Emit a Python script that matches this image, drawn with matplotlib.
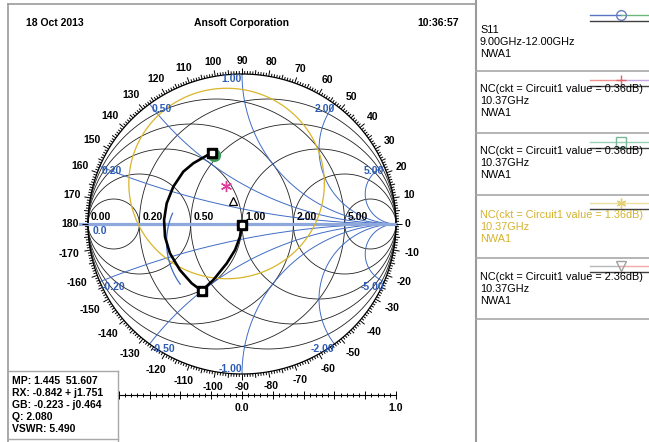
import numpy as np
import matplotlib.pyplot as plt
from matplotlib.collections import LineCollection

plt.rcParams['font.family'] = ['Liberation Sans', 'DejaVu Sans']

W, H = 649, 442
# chart centre and unit radius in pixels
CX, CY, SX, SY = 242, 224, 154, 150

# S11 trace, reflection coefficient (real, imag)
s11_re = [-0.197, -0.316, -0.381, -0.446, -0.489, -0.506, -0.500, -0.468, -0.403,
          -0.327, -0.262, -0.186, -0.099, -0.045, -0.013, -0.002]
s11_im = [0.475, 0.405, 0.349, 0.249, 0.138, 0.027, -0.085, -0.195, -0.307,
          -0.395, -0.445, -0.373, -0.262, -0.173, -0.085, -0.007]
marker_idx = [0, 10, 15]

# noise circles
nc136_center = (-0.10, 0.27)
nc136_radius = 0.635
nf_min = (-0.104, 0.253)
nc236_center = (-0.058, 0.153)
nc036_point = (-0.185, 0.462)
partial_center = (0.0, -0.12)
partial_radius = 0.49
partial_span = (157, 215)

grid_vals = [0.2, 0.5, 1.0, 2.0, 5.0]

legend_entries = [
    (['S11', '9.00GHz-12.00GHz', 'NWA1'], 'black'),
    (['NC(ckt = Circuit1 value = 0.36dB)', '10.37GHz', 'NWA1'], 'black'),
    (['NC(ckt = Circuit1 value = 0.36dB)', '10.37GHz', 'NWA1'], 'black'),
    (['NC(ckt = Circuit1 value = 1.36dB)', '10.37GHz', 'NWA1'], '#d4b22e'),
    (['NC(ckt = Circuit1 value = 2.36dB)', '10.37GHz', 'NWA1'], 'black'),
]
legend_styles = [
    ('#5a74c8', '#6cb87c', 'o', 'none', '#6a80c0'),
    ('#f29090', '#c8a8e4', '+', '#e06464', '#e06464'),
    ('#9cd0b8', '#9cd0b8', 's', 'none', '#7ab89a'),
    ('#ece0a0', '#ece0a0', (6, 2, 0), '#e4d070', '#e4d070'),
    ('#b8b8b8', '#f4a8a8', 'v', 'none', '#a0a0a0'),
]

info_lines = ['MP: 1.445  51.607', 'RX: -0.842 + j1.751', 'GB: -0.223 - j0.464',
              'Q: 2.080', 'VSWR: 5.490']

blue = '#3f6cc4'
blue_txt = '#2d5cb4'

fig = plt.figure(figsize=(W / 100, H / 100), dpi=100)

# page frame, header, legend panel
bg = fig.add_axes([0, 0, 1, 1])
bg.set_xlim(0, W)
bg.set_ylim(H, 0)
bg.axis('off')
frame = '#9a9a9a'
bg.plot([8, 8], [4, H], color=frame, lw=1.2)
bg.plot([8, 476], [4, 4], color=frame, lw=1.2)
bg.plot([476, 476], [0, H], color=frame, lw=1.5)
for y in [71, 133, 195, 258, 319]:
    bg.plot([476, W], [y, y], color='#a8a8a8', lw=1.2)
bg.plot([8, 118], [371, 371], color='#a8a8a8', lw=1.0)
bg.plot([118, 118], [371, H], color='#a8a8a8', lw=1.0)
bg.plot([8, 118], [439, 439], color='#a8a8a8', lw=1.0)

hdr = dict(fontsize=7.5, fontweight='bold', va='center')
bg.text(26, 23, '18 Oct 2013', ha='left', **hdr)
bg.text(242, 23, 'Ansoft Corporation', ha='center', **hdr)
bg.text(459, 23, '10:36:57', ha='right', **hdr)

for i, line in enumerate(info_lines):
    bg.text(12, 381 + i * 12.1, line, fontsize=7.5, fontweight='bold', va='center')

sample_y = [15, 80, 142, 203, 266]
text_y = [30, 89, 151, 215, 277]
for (lines, tcol), (c1, c2, mk, mfc, mec), sy, ty in zip(legend_entries, legend_styles,
                                                          sample_y, text_y):
    bg.plot([590, 621], [sy, sy], color=c1, lw=1.0)
    bg.plot([621, W], [sy, sy], color=c2, lw=1.0)
    bg.plot([621], [sy], marker=mk, ms=7, mfc=mfc, mec=mec, mew=1.0)
    bg.plot([590, W], [sy + 6, sy + 6], color='#404040', lw=1.0)
    for k, s in enumerate(lines):
        bg.text(480, ty + k * 12, s, fontsize=7.8, color=tcol, va='center')

# Smith chart axes in reflection-coefficient units
x0, x1, y0, y1 = -1.25, 1.25, -1.3, 1.3
lpx, rpx = CX + SX * x0, CX + SX * x1
tpx, bpx = CY - SY * y1, CY - SY * y0
ax = fig.add_axes([lpx / W, 1 - bpx / H, (rpx - lpx) / W, (bpx - tpx) / H])
ax.set_xlim(x0, x1)
ax.set_ylim(y0, y1)
ax.axis('off')


def gamma(z):
    return (z - 1) / (z + 1)


th = np.linspace(0, 2 * np.pi, 500)
for v in grid_vals:
    c, rad = v / (1 + v), 1 / (1 + v)
    ax.plot(c + rad * np.cos(th), rad * np.sin(th), color='#202020', lw=0.6)
    ax.plot(-c + rad * np.cos(th), rad * np.sin(th), color='#202020', lw=0.6)

rr = np.concatenate([[0], np.logspace(-3, 4, 800)])
for v in grid_vals:
    for sgn in (1, -1):
        g = gamma(rr + 1j * sgn * v)
        ax.plot(g.real, g.imag, color=blue, lw=0.7)
        e = gamma(1j * sgn * v)
        ha = 'left' if e.real < -0.01 else 'right'
        va = 'bottom' if (sgn < 0 and v == 1.0) else 'top'
        dx = 2 / SX if ha == 'left' else 0
        ax.text(e.real + dx, e.imag, f'{sgn * v:.2f}', color=blue_txt, fontsize=7.5,
                fontweight='bold', ha=ha, va=va)

ax.plot(np.cos(th), np.sin(th), color='black', lw=0.9)
ax.plot([-1.05, 1.0], [0, 0], color='#8ea8dc', lw=2.3)

# resistance labels along the real axis
ax.text(-1 + 3 / SX, 2 / SY, '0.00', fontsize=7.5, fontweight='bold', ha='left', va='bottom')
ax.text(-1 + 5 / SX, -2 / SY, '0.0', fontsize=7.5, fontweight='bold', color=blue_txt,
        ha='left', va='top')
for v in grid_vals:
    ax.text(gamma(v) + 3 / SX, 2 / SY, f'{v:.2f}', fontsize=7.5, fontweight='bold',
            ha='left', va='bottom')

# angle ticks on the rim
segs = []
for d in range(360):
    a = np.radians(d)
    L = 6 if d % 10 == 0 else (4.5 if d % 5 == 0 else 3)
    c, s = np.cos(a), np.sin(a)
    segs.append([(c, s), (c + c * L / SX, s + s * L / SY)])
ax.add_collection(LineCollection(segs, colors='black', linewidths=0.7))

for d in range(-170, 181, 10):
    a = np.radians(d)
    c, s = np.cos(a), np.sin(a)
    lab = str(d)
    w = len(lab) * 5.8
    dd = 9 + abs(c) * w / 2 + abs(s) * 4.5
    ax.text(c + c * dd / SX, s + s * dd / SY, lab, fontsize=7.5, fontweight='bold',
            ha='center', va='center')

# reflection magnitude ruler
ry = (CY - 394.5) / SY
ax.plot([-0.8, 1.0], [ry, ry], color='black', lw=0.8)
rsegs = []
for k in range(-20, 26):
    v = k * 0.04
    L = 4 if k % 5 == 0 else 2
    rsegs.append([(v, ry - L / SY), (v, ry + L / SY)])
ax.add_collection(LineCollection(rsegs, colors='black', linewidths=0.7))
for v in (0.0, 1.0):
    ax.text(v, ry - 13.5 / SY, f'{v:.1f}', fontsize=7.5, fontweight='bold',
            ha='center', va='center')

# noise circles
ax.plot(nc136_center[0] + nc136_radius * np.cos(th),
        nc136_center[1] + nc136_radius * np.sin(th), color='#d9b52a', lw=0.9)
pa = np.radians(np.linspace(*partial_span, 60))
ax.plot(partial_center[0] + partial_radius * np.cos(pa),
        partial_center[1] + partial_radius * np.sin(pa), color=blue, lw=0.9)
ax.plot(*nf_min, marker=(6, 2, 0), ms=8, color='#e03c9c', mew=1.0)
ax.plot(*nc236_center, marker='^', ms=6, mfc='white', mec='black', mew=0.9)
ax.plot(*nc036_point, marker='o', ms=8.5, color='#3c9c5c')

# S11 trace with markers
ax.plot(s11_re, s11_im, color='black', lw=1.9, solid_joinstyle='round')
mx = [s11_re[i] for i in marker_idx]
my = [s11_im[i] for i in marker_idx]
ax.plot(mx, my, 's', ms=7, mfc='black', mec='black')
ax.plot(mx, my, 's', ms=2.6, mfc='white', mec='white')

fig.savefig('out.png', dpi=100)
